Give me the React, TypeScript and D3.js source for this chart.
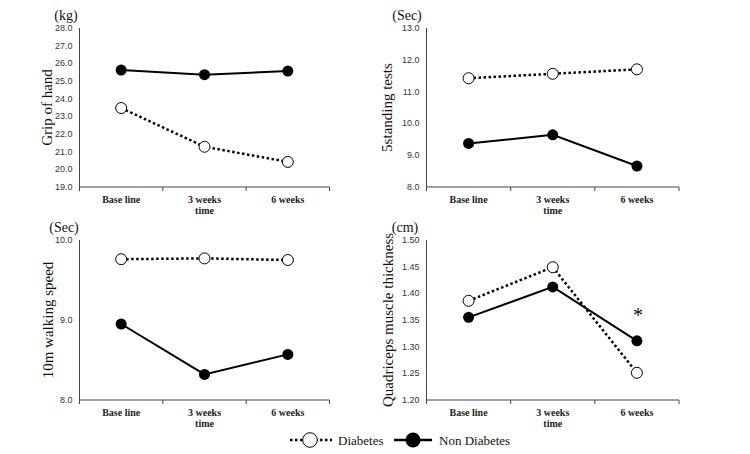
import React, { useEffect, useRef } from 'react';
import * as d3 from 'd3';

const categories = ['Base line', '3 weeks', '6 weeks'];

const gripDiabetes = [23.47, 21.28, 20.42];
const gripNon = [25.62, 25.36, 25.56];
const standDiabetes = [11.42, 11.56, 11.7];
const standNon = [9.37, 9.64, 8.66];
const walkDiabetes = [9.76, 9.77, 9.75];
const walkNon = [8.95, 8.32, 8.57];
const quadDiabetes = [1.386, 1.449, 1.251];
const quadNon = [1.355, 1.412, 1.311];

const serif = '"Liberation Serif", "Times New Roman", serif';
const narrow = '"Liberation Sans Narrow", "Arial Narrow", "Liberation Sans", sans-serif';

const panels = [
  { title: 'Grip of hand', unit: '(kg)', diabetes: gripDiabetes, non: gripNon, domain: [19, 28], step: 1, fmt: '.1f',
    left: 79.5, right: 329.5, top: 28, bottom: 187, titleX: 47, unitX: 66, unitY: 20, note: '' },
  { title: '5standing tests', unit: '(Sec)', diabetes: standDiabetes, non: standNon, domain: [8, 13], step: 1, fmt: '.1f',
    left: 426.5, right: 679, top: 28, bottom: 187, titleX: 387, unitX: 407, unitY: 20, note: '' },
  { title: '10m walking speed', unit: '(Sec)', diabetes: walkDiabetes, non: walkNon, domain: [8, 10], step: 1, fmt: '.1f',
    left: 79.5, right: 329.5, top: 240, bottom: 400, titleX: 48, unitX: 64, unitY: 232, note: '' },
  { title: 'Quadriceps muscle thickness', unit: '(cm)', diabetes: quadDiabetes, non: quadNon, domain: [1.2, 1.5], step: 0.05, fmt: '.2f',
    left: 426.5, right: 679, top: 240, bottom: 400, titleX: 388, unitX: 405, unitY: 232, note: '*' },
];

const App: React.FC = () => {
  const svgRef = useRef<SVGSVGElement | null>(null);

  useEffect(() => {
    const svg = d3.select(svgRef.current);
    svg.selectAll('*').remove();

    panels.forEach((p) => {
      const g = svg.append('g');
      const x = d3.scaleBand<string>().domain(categories).range([p.left, p.right]);
      const cx = (c: string) => (x(c) as number) + x.bandwidth() / 2;
      const y = d3.scaleLinear().domain(p.domain).range([p.bottom, p.top]);
      const ticks = d3.range(p.domain[0], p.domain[1] + p.step / 2, p.step);

      // y axis
      g.append('line').attr('x1', p.left).attr('x2', p.left).attr('y1', p.top).attr('y2', p.bottom)
        .attr('stroke', '#444').attr('stroke-width', 1);
      g.selectAll('.yt').data(ticks).enter().append('text')
        .attr('x', p.left - 7).attr('y', (d) => y(d) + 3)
        .attr('text-anchor', 'end').attr('font-family', narrow).attr('font-size', 9).attr('fill', '#333')
        .text((d) => d3.format(p.fmt)(d));

      // x axis
      g.append('line').attr('x1', p.left).attr('x2', p.right).attr('y1', p.bottom).attr('y2', p.bottom)
        .attr('stroke', '#444').attr('stroke-width', 1);
      const bounds = [...categories.map((c) => x(c) as number), p.right];
      g.selectAll('.xt').data(bounds).enter().append('line')
        .attr('x1', (d) => d).attr('x2', (d) => d).attr('y1', p.bottom).attr('y2', p.bottom + 4)
        .attr('stroke', '#444');
      g.selectAll('.xl').data(categories).enter().append('text')
        .attr('x', (d) => cx(d)).attr('y', p.bottom + 16)
        .attr('text-anchor', 'middle').attr('font-family', serif).attr('font-weight', 'bold')
        .attr('font-size', 10).attr('fill', '#222').text((d) => d);
      g.append('text').attr('x', cx(categories[1])).attr('y', p.bottom + 27)
        .attr('text-anchor', 'middle').attr('font-family', serif).attr('font-weight', 'bold')
        .attr('font-size', 10).attr('fill', '#222').text('time');

      // titles
      g.append('text')
        .attr('transform', `translate(${p.titleX},${(p.top + p.bottom) / 2}) rotate(-90)`)
        .attr('text-anchor', 'middle').attr('dominant-baseline', 'central')
        .attr('font-family', serif).attr('font-size', 15).attr('fill', '#111').text(p.title);
      g.append('text').attr('x', p.unitX).attr('y', p.unitY)
        .attr('text-anchor', 'middle').attr('font-family', serif).attr('font-size', 14).attr('fill', '#111')
        .text(p.unit);

      const line = d3.line<number>().x((_, i) => cx(categories[i])).y((d) => y(d));

      g.append('path').datum(p.diabetes).attr('fill', 'none').attr('stroke', '#000')
        .attr('stroke-width', 2.5).attr('stroke-dasharray', '2.5,2.5').attr('d', line as any);
      g.append('path').datum(p.non).attr('fill', 'none').attr('stroke', '#000')
        .attr('stroke-width', 2).attr('d', line as any);

      g.selectAll('.dm').data(p.diabetes).enter().append('circle')
        .attr('cx', (_, i) => cx(categories[i])).attr('cy', (d) => y(d)).attr('r', 5.5)
        .attr('fill', '#fff').attr('stroke', '#000').attr('stroke-width', 1);
      g.selectAll('.nm').data(p.non).enter().append('circle')
        .attr('cx', (_, i) => cx(categories[i])).attr('cy', (d) => y(d)).attr('r', 5.5)
        .attr('fill', '#000');

      if (p.note) {
        g.append('text').attr('x', cx(categories[2]) + 1).attr('y', y(p.non[2]) - 19)
          .attr('text-anchor', 'middle').attr('font-family', serif).attr('font-size', 20).attr('fill', '#111')
          .text(p.note);
      }
    });

    // legend
    const lg = svg.append('g');
    const ly = 440;
    lg.append('line').attr('x1', 290).attr('x2', 332).attr('y1', ly).attr('y2', ly)
      .attr('stroke', '#000').attr('stroke-width', 2.5).attr('stroke-dasharray', '2.5,2.5');
    lg.append('circle').attr('cx', 310).attr('cy', ly).attr('r', 7.3)
      .attr('fill', '#fff').attr('stroke', '#000').attr('stroke-width', 1);
    lg.append('text').attr('x', 338).attr('y', ly + 4.5).attr('font-family', serif).attr('font-size', 13)
      .attr('fill', '#111').text('Diabetes');
    lg.append('line').attr('x1', 394).attr('x2', 432).attr('y1', ly).attr('y2', ly)
      .attr('stroke', '#000').attr('stroke-width', 2.5);
    lg.append('circle').attr('cx', 413).attr('cy', ly).attr('r', 7.5).attr('fill', '#000');
    lg.append('text').attr('x', 439).attr('y', ly + 4.5).attr('font-family', serif).attr('font-size', 13)
      .attr('fill', '#111').text('Non Diabetes');
  }, []);

  return (
    <div style={{ position: 'absolute', left: 0, top: 0, width: 750, height: 454, background: '#fff' }}>
      <svg ref={svgRef} width={750} height={454}></svg>
    </div>
  );
};

export default App;
